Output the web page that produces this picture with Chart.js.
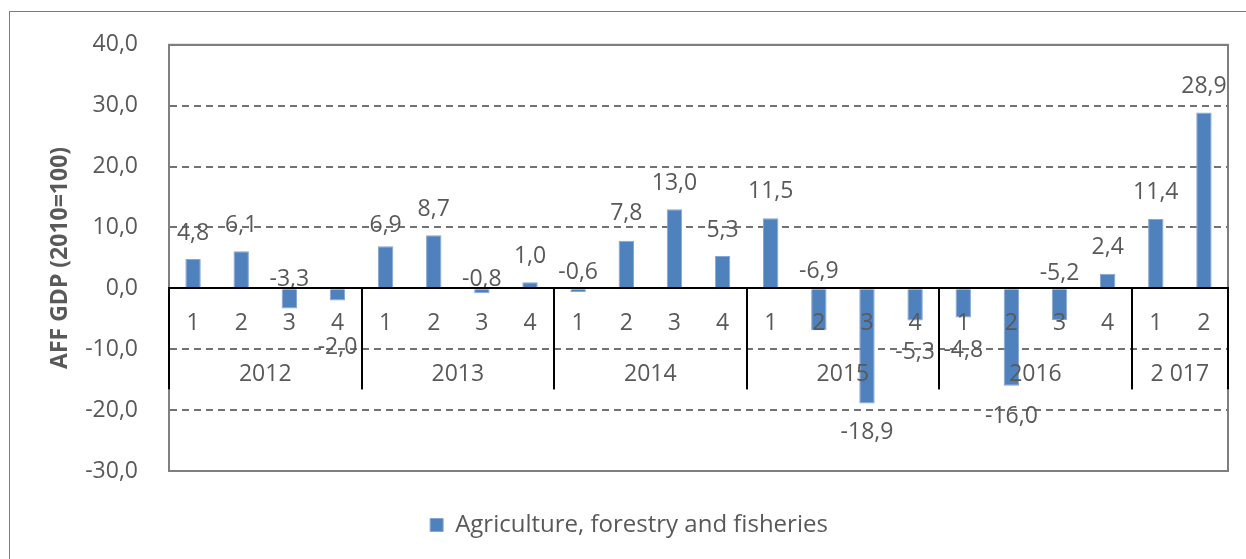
<!DOCTYPE html>
<html><head><meta charset="utf-8">
<script src="https://cdn.jsdelivr.net/npm/chart.js@4/dist/chart.umd.min.js"></script>
<style>
html,body{margin:0;padding:0;background:#fff;overflow:hidden;}
#wrap{position:relative;width:1246px;height:559px;overflow:hidden;}
#frame{position:absolute;left:9px;top:11px;width:1300px;height:600px;border:1.5px solid #7a7a7a;box-sizing:border-box;}
canvas{position:absolute;left:0;top:0;}
</style></head><body>
<div id="wrap"><div id="frame"></div><canvas id="c" width="1246" height="559"></canvas></div>
<script>
// ---- data ----
const years = ['2012', '2013', '2014', '2015', '2016', '2 017'];
const quarters = ['1','2','3','4','1','2','3','4','1','2','3','4','1','2','3','4','1','2','3','4','1','2'];
const yearOfQuarter = [0,0,0,0,1,1,1,1,2,2,2,2,3,3,3,3,4,4,4,4,5,5];
const values = [4.8, 6.1, -3.3, -2.0, 6.9, 8.7, -0.8, 1.0, -0.6, 7.8, 13.0, 5.3, 11.5, -6.9, -18.9, -5.3, -4.8, -16.0, -5.2, 2.4, 11.4, 28.9];
const yMin = -30, yMax = 40, yStep = 10;
const seriesName = 'Agriculture, forestry and fisheries';
const axisTitle = 'AFF GDP (2010=100)';

// ---- styling ----
const FONT = '"Open Sans", "Liberation Sans", sans-serif';
const TEXT = '#595959';
const BAR = '#4F81BD';
// vertical shift (px) of each data label from its bar end, as placed in the original
const labelDy = [-26,-26,-29,47,-21,-26,-14,-26,-20,-27,-26,-26,-27,-59,29,32,33,31,-47,-26,-26,-26];

const fmt = v => v.toFixed(1).replace('.', ',');

const decor = {
  id: 'decor',
  beforeDatasetsDraw(chart) {
    const {ctx, chartArea: a} = chart;
    ctx.save();
    ctx.strokeStyle = '#7f7f7f';
    ctx.lineWidth = 2;
    ctx.strokeRect(a.left, a.top, a.right - a.left, a.bottom - a.top);
    ctx.restore();
  },
  afterDatasetsDraw(chart) {
    const {ctx} = chart;
    const x = chart.scales.x, y = chart.scales.y;
    const y0 = y.getPixelForValue(0);
    const half = (x.getPixelForValue(1) - x.getPixelForValue(0)) / 2;
    ctx.save();
    ctx.strokeStyle = '#000';
    ctx.lineWidth = 2;
    ctx.fillStyle = TEXT;
    ctx.font = '23px ' + FONT;
    ctx.textAlign = 'center';
    ctx.textBaseline = 'middle';
    years.forEach((yr, g) => {
      const idx = [];
      yearOfQuarter.forEach((v, i) => { if (v === g) idx.push(i); });
      const l = x.getPixelForValue(idx[0]) - half;
      const r = x.getPixelForValue(idx[idx.length - 1]) + half;
      [l, r].forEach(px => {
        ctx.beginPath();
        ctx.moveTo(Math.round(px), y0);
        ctx.lineTo(Math.round(px), y0 + 101);
        ctx.stroke();
      });
      ctx.fillText(yr, (l + r) / 2, y0 + 86);
    });
    const meta = chart.getDatasetMeta(0);
    meta.data.forEach((bar, i) => {
      ctx.fillText(fmt(values[i]), bar.x, bar.y + labelDy[i]);
    });
    ctx.restore();
  }
};

new Chart(document.getElementById('c'), {
  type: 'bar',
  data: {
    labels: quarters,
    datasets: [{
      label: seriesName,
      data: values,
      backgroundColor: BAR,
      borderColor: '#86a6d4',
      borderWidth: 1,
      barPercentage: 0.32,
      categoryPercentage: 1.0
    }]
  },
  options: {
    responsive: false,
    devicePixelRatio: 1,
    animation: false,
    layout: { padding: { left: 30, right: 18, top: 41, bottom: 12 } },
    plugins: {
      legend: {
        position: 'bottom',
        labels: {
          boxWidth: 13, boxHeight: 13, padding: 42,
          color: TEXT, font: { family: FONT, size: 24 }
        }
      },
      tooltip: { enabled: false }
    },
    scales: {
      y: {
        min: yMin, max: yMax,
        ticks: {
          stepSize: yStep, padding: 31, color: TEXT,
          font: { family: FONT, size: 23 },
          callback: v => fmt(v)
        },
        grid: {
          drawTicks: false,
          lineWidth: 2,
          color: c => (c.tick && c.tick.value === 0) ? 'rgba(0,0,0,0)' : '#727272'
        },
        border: {
          display: true, color: '#7f7f7f', width: 2,
          dash: c => (c.tick && (c.tick.value === yMin || c.tick.value === yMax)) ? [] : [7, 5]
        },
        title: {
          display: true, text: axisTitle, color: TEXT,
          font: { family: FONT, size: 23, weight: 'bold' },
          padding: { top: 17, bottom: 0 }
        },
        afterFit: s => { s.width = 139; }
      },
      x: {
        position: { y: 0 },
        grid: { display: false, drawTicks: false },
        border: { display: true, color: '#000', width: 2, z: 1 },
        ticks: {
          z: 1,
          padding: 21, color: TEXT, autoSkip: false, maxRotation: 0,
          font: { family: FONT, size: 23 }
        }
      }
    }
  },
  plugins: [decor]
});
</script>
</body></html>
